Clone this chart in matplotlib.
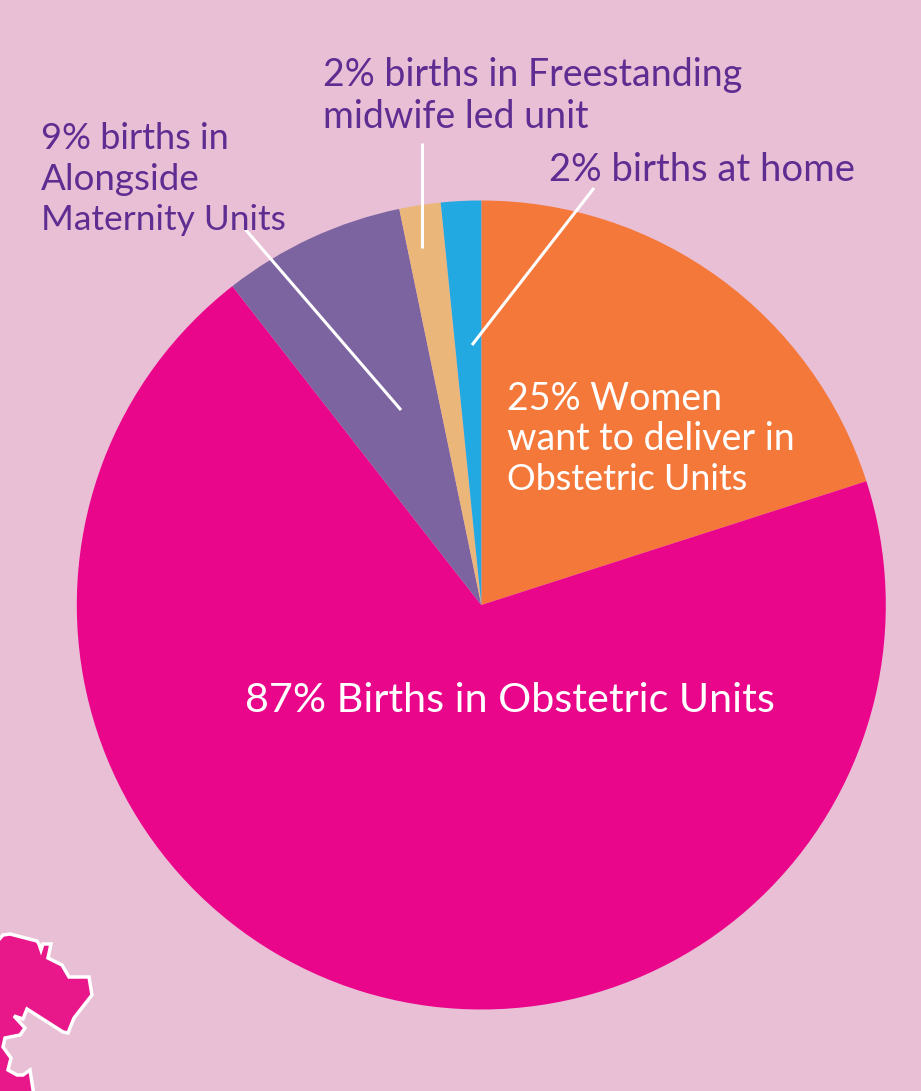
import matplotlib
matplotlib.use('Agg')
import matplotlib.pyplot as plt
from matplotlib.patches import Polygon

W, H = 921, 1091
BG = '#e9bfd6'
PURPLE = '#5f2d91'

# slice shares (clockwise from 12 o'clock)
shares = [20.05, 69.4, 7.3, 1.65, 1.6]
colors = ['#f5783b', '#ea068b', '#7c64a1', '#ebb679', '#23a9e1']

# (text, x, y of baseline, colour)
labels = [
    ('2% births in Freestanding', 323, 86, PURPLE),
    ('midwife led unit', 323, 128, PURPLE),
    ('2% births at home', 549, 181, PURPLE),
    ('9% births in', 41, 149, PURPLE),
    ('Alongside', 41, 190, PURPLE),
    ('Maternity Units', 41, 230, PURPLE),
    ('25% Women', 507, 410, 'white'),
    ('want to deliver in', 507, 450, 'white'),
    ('Obstetric Units', 507, 490, 'white'),
    ('87% Births in Obstetric Units', 245, 712, 'white'),
]
label_sizes = [27, 27, 27.5, 26, 26.5, 25.5, 27, 27, 25.8, 29.7]

# leader lines, pixel coords
leaders = [
    ((422, 143), (422, 248)),
    ((594, 188), (472, 345)),
    ((245, 229), (401, 410)),
]

# map fragment in the bottom left corner, pixel coords
map_outline = [(-5, 944), (3, 935), (10, 934), (37, 941), (39, 944), (41, 950),
               (43, 944), (51, 944), (48, 958), (62, 965), (69, 977), (89, 977),
               (92, 995), (74, 1018), (68, 1033), (63, 1032), (27, 1009), (23, 1019),
               (14, 1016), (25, 1028), (20, 1035), (5, 1038), (3, 1047), (11, 1058),
               (8, 1070), (17, 1075), (23, 1075), (30, 1070), (34, 1096), (-5, 1096)]

fig = plt.figure(figsize=(W / 100, H / 100), dpi=100, facecolor=BG)
ax = fig.add_axes([0, 0, 1, 1])
ax.set_xlim(0, W)
ax.set_ylim(H, 0)
ax.set_aspect('equal')
ax.axis('off')

ax.pie(shares, colors=colors, center=(481.3, 605), radius=404.5, startangle=-90,
       counterclock=True, frame=False)
ax.set_xlim(0, W)
ax.set_ylim(H, 0)

for (x0, y0), (x1, y1) in leaders:
    ax.plot([x0, x1], [y0, y1], color='white', lw=2.2, solid_capstyle='butt', zorder=4)

ax.add_patch(Polygon(map_outline, closed=True, facecolor='#e8178a', edgecolor='white',
                     lw=2.5, joinstyle='miter', zorder=3))

for (txt, x, y, col), size in zip(labels, label_sizes):
    ax.text(x, y, txt, color=col, fontsize=size, family='Lato', ha='left', va='baseline', zorder=5)

fig.savefig('out.png', dpi=100, facecolor=BG)
